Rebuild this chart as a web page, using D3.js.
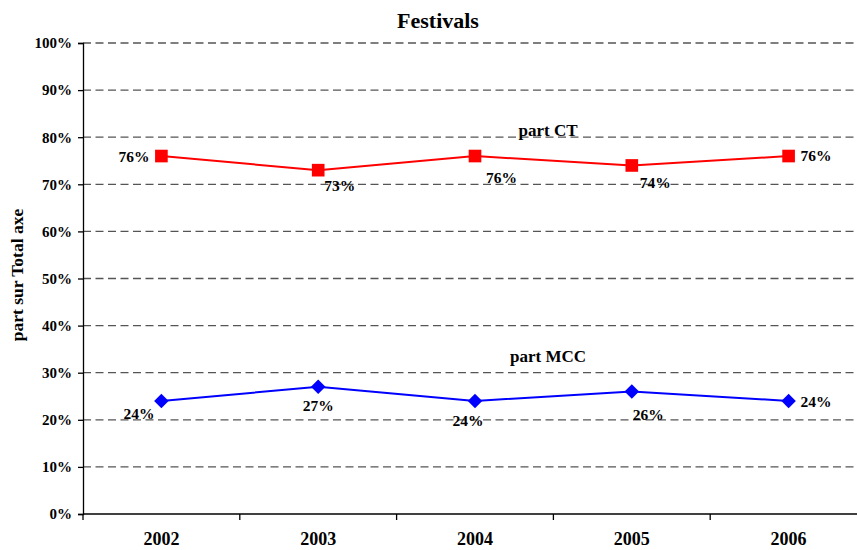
<!DOCTYPE html>
<html>
<head>
<meta charset="utf-8">
<script src="https://cdnjs.cloudflare.com/ajax/libs/d3/7.8.5/d3.min.js"></script>
<style>
  body { margin: 0; background: #fff; }
  svg text { font-family: "Liberation Serif", "Times New Roman", serif; font-weight: bold; fill: #000; }
</style>
</head>
<body>
<svg id="chart" width="857" height="550"></svg>
<script>
const years = ["2002", "2003", "2004", "2005", "2006"];
const partCT = [76, 73, 76, 74, 76];
const partMCC = [24, 27, 24, 26, 24];
const yTicks = [0, 10, 20, 30, 40, 50, 60, 70, 80, 90, 100];

// value label offsets from each point: [dx, dy, anchor]
const ctLabelOffset = [[-12, 6, "end"], [6, 21, "start"], [11, 27, "start"], [8, 23, "start"], [12, 5, "start"]];
const mccLabelOffset = [[-7, 18, "end"], [0, 24, "middle"], [-7, 25, "middle"], [1, 28, "start"], [12, 6, "start"]];

const svg = d3.select("#chart");
const plotLeft = 83, plotRight = 867, plotTop = 43, plotBottom = 514;

const x = d3.scaleBand().domain(years).range([plotLeft, plotRight]);
const y = d3.scaleLinear().domain([0, 100]).range([plotBottom, plotTop]);
const cx = d => x(d) + x.bandwidth() / 2;

// title
svg.append("text")
  .attr("x", 438).attr("y", 28)
  .attr("text-anchor", "middle")
  .style("font-size", "22px")
  .text("Festivals");

// y axis title
svg.append("text")
  .attr("transform", `translate(23,275) rotate(-90)`)
  .attr("text-anchor", "middle")
  .style("font-size", "17.5px")
  .text("part sur Total axe");

// gridlines
svg.append("g").selectAll("line")
  .data(yTicks.filter(t => t > 0))
  .enter().append("line")
  .attr("x1", plotLeft).attr("x2", 857)
  .attr("y1", d => y(d)).attr("y2", d => y(d))
  .attr("stroke", "#555")
  .attr("stroke-width", 1.3)
  .attr("stroke-dasharray", "8,4.5");

// y axis
const yAxis = svg.append("g")
  .attr("transform", `translate(${plotLeft},0)`)
  .call(d3.axisLeft(y).tickValues(yTicks).tickSize(5).tickFormat(d => d + "%"));
yAxis.select(".domain").attr("stroke", "#000").attr("stroke-width", 1.3);
yAxis.selectAll(".tick line").attr("stroke", "#000").attr("stroke-width", 1.3);
yAxis.selectAll("text")
  .attr("x", -11)
  .style("font-size", "15px")
  .style("font-family", "Liberation Serif, serif")
  .style("font-weight", "bold");

// x axis, ticks between categories
const xAxis = svg.append("g")
  .attr("transform", `translate(0,${plotBottom})`);
xAxis.append("line")
  .attr("x1", plotLeft).attr("x2", 857)
  .attr("stroke", "#000").attr("stroke-width", 1.3);
xAxis.selectAll(".sep")
  .data(years)
  .enter().append("line")
  .attr("x1", d => x(d)).attr("x2", d => x(d))
  .attr("y1", 0).attr("y2", 6)
  .attr("stroke", "#000").attr("stroke-width", 1.3);
xAxis.selectAll(".lab")
  .data(years)
  .enter().append("text")
  .attr("x", d => cx(d)).attr("y", 31)
  .attr("text-anchor", "middle")
  .style("font-size", "18px")
  .text(d => d);

const line = d3.line().x(d => cx(d.year)).y(d => y(d.v));

function drawSeries(values, color, symbolType, size, rotate, offsets, name, nameValue) {
  const pts = years.map((yr, i) => ({ year: yr, v: values[i], off: offsets[i] }));
  svg.append("path")
    .datum(pts)
    .attr("d", line)
    .attr("fill", "none")
    .attr("stroke", color)
    .attr("stroke-width", 2);
  svg.append("g").selectAll("path")
    .data(pts)
    .enter().append("path")
    .attr("transform", d => `translate(${cx(d.year)},${y(d.v)}) rotate(${rotate})`)
    .attr("d", d3.symbol().type(symbolType).size(size))
    .attr("fill", color);
  svg.append("g").selectAll("text")
    .data(pts)
    .enter().append("text")
    .attr("x", d => cx(d.year) + d.off[0])
    .attr("y", d => y(d.v) + d.off[1])
    .attr("text-anchor", d => d.off[2])
    .style("font-size", "15.5px")
    .text(d => d.v + "%");
  svg.append("text")
    .attr("x", 548).attr("y", y(nameValue) + 6)
    .attr("text-anchor", "middle")
    .style("font-size", "17px")
    .text(name);
}

drawSeries(partCT, "#ff0000", d3.symbolSquare, 160, 0, ctLabelOffset, "part CT", 81.5);
drawSeries(partMCC, "#0000ff", d3.symbolSquare, 105, 45, mccLabelOffset, "part MCC", 33.5);
</script>
</body>
</html>
